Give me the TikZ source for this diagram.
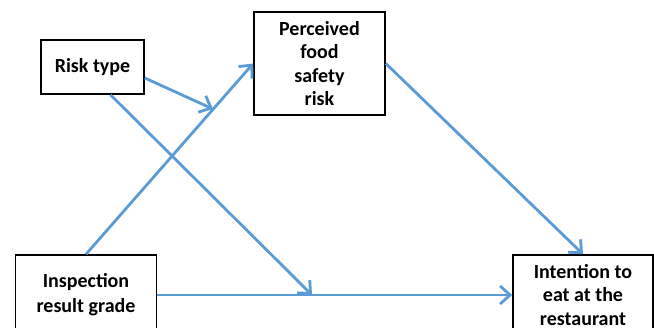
\documentclass[tikz,border=0pt]{standalone}
\usepackage{fontspec}
\setmainfont{Carlito}
\usetikzlibrary{arrows.meta}
\definecolor{linkblue}{HTML}{5B9BD5}

\begin{document}
\begin{tikzpicture}[x=1pt,y=-1pt,
    box/.style={draw,line width=1.6pt,align=center,inner sep=0pt,
        font=\fontsize{20}{23.5}\selectfont\bfseries},
    link/.style={color=linkblue,line width=2.8pt,
        -{Straight Barb[length=10pt,width=18pt]}}]
        \useasboundingbox (0,0) rectangle (654,328);
        \clip (0,0) rectangle (654,328);

        \node[box,minimum width=103pt,minimum height=54pt]  (risk)   at (92.5,67)  {Risk type};
        \node[box,minimum width=131pt,minimum height=103pt] (perc)   at (319.5,63.5) {Perceived\\food\\safety\\risk};
        \node[box,minimum width=141pt,minimum height=80pt,
              font=\fontsize{20}{25}\selectfont\bfseries] (insp) at (86,295) {Inspection\\result grade};
        \node[box,minimum width=140pt,minimum height=80pt]  (intent) at (583,295)  {Intention to\\eat at the\\restaurant};

        % free ends of the moderating arrows
        \coordinate (hit1) at (213,109);
        \coordinate (hit2) at (312,295);

        \path[link]
        (insp.north) edge (perc.west)
        (perc.east) edge (intent.north)
        (insp.east) edge (intent.west)
        ([yshift=-11pt]risk.east) edge (hit1)
        ([xshift=18pt]risk.south) edge (hit2);
\end{tikzpicture}
\end{document}
